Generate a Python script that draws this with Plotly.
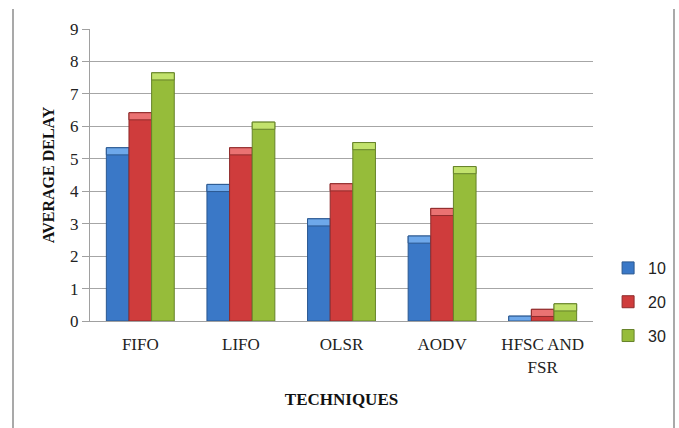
import plotly.graph_objects as go

# Average delay per technique for three node counts
techniques = ["FIFO", "LIFO", "OLSR", "AODV", "HFSC AND<br>FSR"]
series_names = ["10", "20", "30"]
delay_10 = [5.34, 4.21, 3.15, 2.62, 0.15]
delay_20 = [6.42, 5.34, 4.23, 3.47, 0.36]
delay_30 = [7.65, 6.13, 5.50, 4.76, 0.53]

y_ticks = list(range(0, 10))

fills = ["#3a78c7", "#cf3c3c", "#96bc3a"]
edges = ["#2b5890", "#8f2b2b", "#66832a"]
tops = ["#6ea8ea", "#ea7272", "#c2e26c"]
cap = 0.22  # height of the bevelled top highlight

fig = go.Figure()
for i, (name, vals) in enumerate(zip(series_names, [delay_10, delay_20, delay_30])):
    fig.add_trace(go.Bar(
        x=techniques, y=vals, name=name, offsetgroup=str(i),
        legendgroup=name,
        marker=dict(color=fills[i], line=dict(color=edges[i], width=1)),
    ))
    fig.add_trace(go.Bar(
        x=techniques, y=[min(cap, v) for v in vals],
        base=[max(v - cap, 0) for v in vals], offsetgroup=str(i),
        showlegend=False, hoverinfo="skip",
        marker=dict(color=tops[i], line=dict(color=edges[i], width=1)),
    ))

serif = "Liberation Serif"
fig.update_layout(
    width=679, height=428,
    margin=dict(l=90, r=86, t=29, b=107, autoexpand=False),
    paper_bgcolor="white", plot_bgcolor="white",
    barmode="group", bargap=0.325, bargroupgap=0,
    font=dict(family=serif, size=17, color="#222222"),
    showlegend=True,
    legend=dict(
        x=1.03, y=0.065, xanchor="left", yanchor="middle",
        font=dict(family="Liberation Sans", size=16, color="#222222"),
        traceorder="grouped", tracegroupgap=10,
        itemwidth=30,
    ),
    xaxis=dict(
        showline=True, linecolor="#a0a0a0", linewidth=1,
        ticks="", tickfont=dict(family=serif, size=17, color="#222222"),
        ticklabelstandoff=8,
        title=dict(text="<b>TECHNIQUES</b>", font=dict(family=serif, size=17, color="#111111"),
                   standoff=17),
        fixedrange=True,
    ),
    yaxis=dict(
        range=[0, 9], tickvals=y_ticks,
        showgrid=True, gridcolor="#a6a6a6", gridwidth=1,
        showline=True, linecolor="#a0a0a0", linewidth=1,
        ticks="outside", ticklen=7, tickcolor="#a0a0a0",
        tickfont=dict(family=serif, size=17, color="#222222"),
        title=dict(text="<b>AVERAGE DELAY</b>", font=dict(family=serif, size=16, color="#111111"),
                   standoff=11),
        zeroline=False,
    ),
    shapes=[
        dict(type="line", xref="paper", yref="paper",
             x0=(13 - 90) / 503, x1=(13 - 90) / 503, y0=1.0685, y1=-0.37,
             line=dict(color="#8c8c8c", width=1.5)),
        dict(type="line", xref="paper", yref="paper",
             x0=(674 - 90) / 503, x1=(674 - 90) / 503, y0=1.0685, y1=-0.37,
             line=dict(color="#8c8c8c", width=1.5)),
    ],
)

fig.write_html("out.html")
